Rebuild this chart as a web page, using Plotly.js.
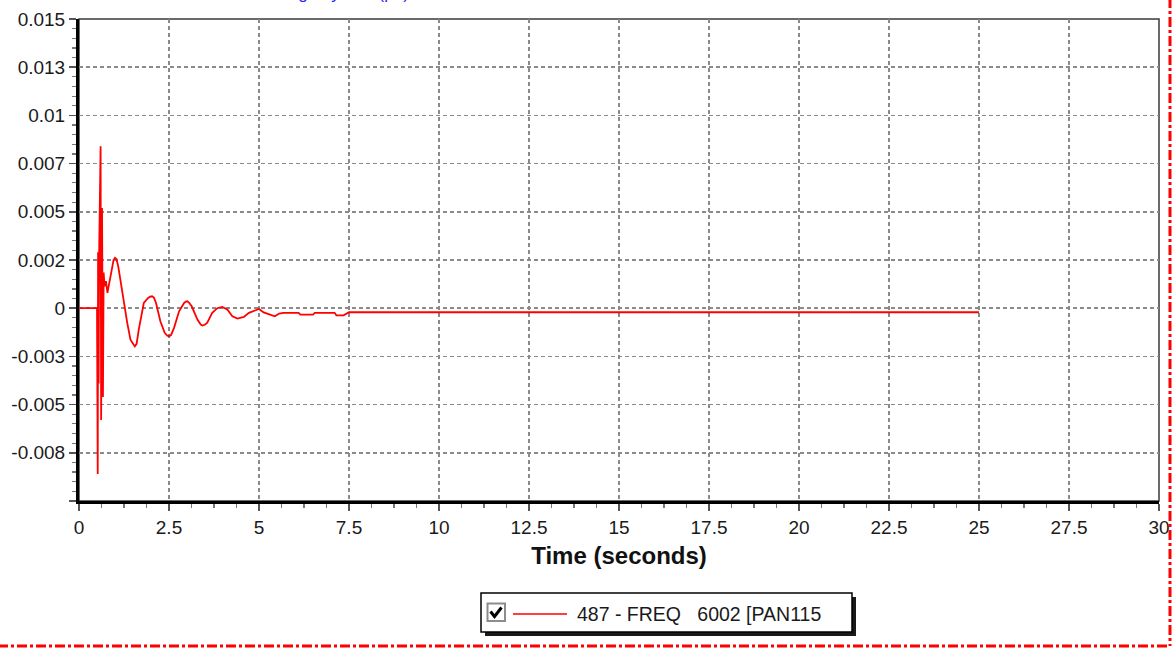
<!DOCTYPE html>
<html>
<head>
<meta charset="utf-8">
<script src="https://cdn.plot.ly/plotly-3.0.1.min.js"></script>
<style>
  html, body { margin: 0; padding: 0; background: #ffffff; }
  #chart { width: 1175px; height: 649px; }
</style>
</head>
<body>
<div id="chart"></div>
<script>
// ---- data ----
const time = [0, 0.50, 0.52, 0.53, 0.545, 0.56, 0.60, 0.615, 0.64, 0.665, 0.685, 0.71, 0.75, 0.79, 0.83,
  0.93, 0.96, 1.0, 1.04, 1.09, 1.2, 1.34, 1.43, 1.50, 1.55, 1.60, 1.66, 1.8, 1.92, 1.98, 2.03, 2.08, 2.14, 2.26, 2.38, 2.45, 2.5, 2.56, 2.64, 2.78,
  2.92, 2.97, 3.01, 3.06, 3.13, 3.29, 3.38, 3.43, 3.49, 3.56, 3.7, 3.84, 3.98, 4.12, 4.26, 4.4, 4.58, 4.72, 4.86, 5.0,
  5.13, 5.28, 5.44, 5.56, 5.68, 6.1, 6.15, 6.5, 6.55, 7.1, 7.15, 7.35, 7.5, 25];
const freqDev = [0, 0, -0.0086, 0.0029, -0.0039, 0.0029, 0.0084, -0.0058, 0.0052, -0.0046, 0.00185, 0.00114, 0.0014, 0.0008, 0.0012,
  0.00235, 0.0025, 0.00261, 0.00255, 0.00217, 0.00079, -0.00076, -0.00163, -0.00188, -0.00198, -0.00185, -0.00111, 0.00027, 0.00053, 0.0006, 0.00062, 0.00055, 0.00027, -0.00068, -0.00128, -0.00142, -0.00146, -0.00138, -0.00102, -0.00016,
  0.00027, 0.00034, 0.00036, 0.00028, 0.0001, -0.00059, -0.00085, -0.0009, -0.00086, -0.00076, -0.00024, 0.0, 0.00007, -0.00007, -0.00042, -0.00054, -0.00045, -0.00024, -0.00012, -0.00004,
  -0.00022, -0.0003, -0.00042, -0.00028, -0.00024, -0.00024, -0.00033, -0.00033, -0.00024, -0.00024, -0.00037, -0.00037, -0.00021, -0.00021];
const seriesName = "487 - FREQ\u00A0\u00A0\u00A06002 [PAN115";
const yTickVals = [-0.01, -0.0075, -0.005, -0.0025, 0, 0.0025, 0.005, 0.0075, 0.01, 0.0125, 0.015];
const yTickText = ["", "-0.008", "-0.005", "-0.003", "0", "0.002", "0.005", "0.007", "0.01", "0.013", "0.015"];
const xTickVals = [0, 2.5, 5, 7.5, 10, 12.5, 15, 17.5, 20, 22.5, 25, 27.5, 30];
const xTickText = ["0", "2.5", "5", "7.5", "10", "12.5", "15", "17.5", "20", "22.5", "25", "27.5", "30"];
const xTitle = "Time (seconds)";
const chartTitle = "Deviation Change by Bus (pu)";

// ---- layout geometry helpers (pixel -> paper) ----
const W = 1175, H = 649, ML = 79, MR = 16, MT = 19, MB = 148;
const PW = W - ML - MR, PH = H - MT - MB;
const px = v => (v - ML) / PW;
const py = v => (MT + PH - v) / PH;

const FONT = "Liberation Sans, Arial, sans-serif";

const trace = {
  x: time, y: freqDev, type: "scatter", mode: "lines", name: seriesName,
  line: { color: "#ff0000", width: 1.8 }, showlegend: false, hoverinfo: "x+y"
};

const shapes = [
  // top/right frame of the plot area
  { type: "rect", xref: "paper", yref: "paper", x0: 0, x1: 1, y0: 0, y1: 1,
    line: { color: "#3a3a3a", width: 1.5 }, layer: "below" },
  // legend shadow + box
  { type: "rect", xref: "paper", yref: "paper", x0: px(485), x1: px(856), y0: py(597), y1: py(636),
    line: { width: 0 }, fillcolor: "#1a1a1a" },
  { type: "rect", xref: "paper", yref: "paper", x0: px(481), x1: px(852), y0: py(593), y1: py(632),
    line: { color: "#000000", width: 1.5 }, fillcolor: "#ffffff" },
  // checkbox
  { type: "rect", xref: "paper", yref: "paper", x0: px(487.5), x1: px(505), y0: py(603.5), y1: py(621),
    line: { color: "#8c8c8c", width: 2 }, fillcolor: "#ffffff" },
  { type: "path", xref: "paper", yref: "paper",
    path: `M ${px(490.5)} ${py(611.5)} L ${px(494.5)} ${py(616.5)} L ${px(501.5)} ${py(607.5)}`,
    line: { color: "#000000", width: 3 } },
  // legend line sample
  { type: "line", xref: "paper", yref: "paper", x0: px(513), x1: px(567), y0: py(614), y1: py(614),
    line: { color: "#ff0000", width: 1.5 } },
  // red dash-dot window frame
  { type: "line", xref: "paper", yref: "paper", x0: px(1170), x1: px(1170), y0: py(-2), y1: py(646),
    line: { color: "#ff0000", width: 3, dash: "10px,3px,3px,3px" } },
  { type: "line", xref: "paper", yref: "paper", x0: px(-2), x1: px(1170), y0: py(646), y1: py(646),
    line: { color: "#ff0000", width: 3, dash: "10px,3px,3px,3px" } }
];

const annotations = [
  { text: seriesName, xref: "paper", yref: "paper", x: px(575), y: py(613.5), xanchor: "left", yanchor: "middle",
    showarrow: false, font: { family: FONT, size: 19.5, color: "#1a1a1a" } },
  { text: chartTitle, xref: "paper", yref: "paper", x: px(180), y: py(5), xanchor: "left", yanchor: "bottom",
    showarrow: false, font: { family: FONT, size: 17, color: "#2a2aff" } }
];

const gridStyle = { gridcolor: "#8a8a8a", gridwidth: 1.5, griddash: "4px,3px" };

const layout = {
  width: W, height: H,
  margin: { l: ML, r: MR, t: MT, b: MB, pad: 0 },
  paper_bgcolor: "#ffffff", plot_bgcolor: "#ffffff",
  font: { family: FONT, size: 19, color: "#1a1a1a" },
  showlegend: false,
  xaxis: Object.assign({
    range: [0, 30], tickmode: "array", tickvals: xTickVals, ticktext: xTickText,
    showgrid: true, zeroline: false, showline: true, linecolor: "#000000", linewidth: 3,
    ticks: "outside", ticklen: 7, tickwidth: 1.5, tickcolor: "#555555",
    minor: { dtick: 0.625, ticks: "outside", ticklen: 4, tickwidth: 1.2, tickcolor: "#777777", showgrid: false },
    tickfont: { family: FONT, size: 19, color: "#1a1a1a" },
    title: { text: xTitle, font: { family: FONT, size: 24, color: "#111111", weight: "bold" }, standoff: 11 },
    automargin: false, fixedrange: true
  }, gridStyle),
  yaxis: Object.assign({
    range: [-0.01, 0.015], tickmode: "array", tickvals: yTickVals, ticktext: yTickText,
    showgrid: true, zeroline: false, showline: true, linecolor: "#000000", linewidth: 3,
    ticks: "outside", ticklen: 7, tickwidth: 1.5, tickcolor: "#555555",
    minor: { dtick: 0.0005, ticks: "outside", ticklen: 4, tickwidth: 1.2, tickcolor: "#777777", showgrid: false },
    tickfont: { family: FONT, size: 19, color: "#1a1a1a" },
    automargin: false, fixedrange: true
  }, gridStyle),
  shapes: shapes,
  annotations: annotations
};

Plotly.newPlot("chart", [trace], layout, { displayModeBar: false, staticPlot: true });
</script>
</body>
</html>
